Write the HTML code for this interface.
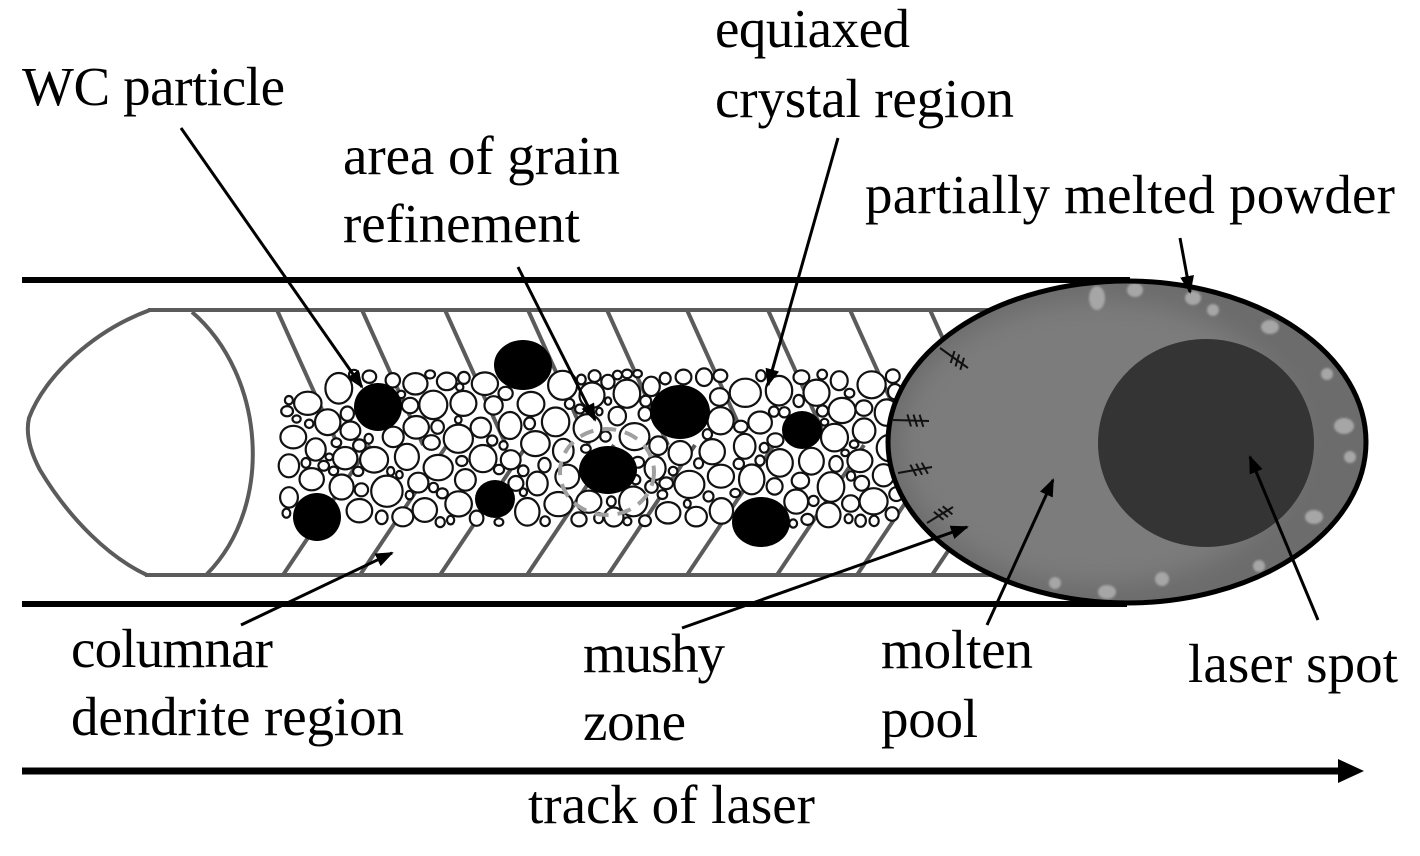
<!DOCTYPE html>
<html><head><meta charset="utf-8"><style>
html,body{margin:0;padding:0;background:#fff;}
svg{display:block;}
text{font-family:"Liberation Serif","Times New Roman",serif;font-size:55px;fill:#000;}
</style></head><body>
<svg id="s" width="1420" height="856" viewBox="0 0 1420 856" xmlns="http://www.w3.org/2000/svg">
<defs>
<filter id="blur" x="-30%" y="-30%" width="160%" height="160%"><feGaussianBlur stdDeviation="12"/></filter>
<filter id="sblur"><feGaussianBlur stdDeviation="1"/></filter>
<clipPath id="ec"><ellipse cx="1127" cy="442" rx="239" ry="161"/></clipPath>
<marker id="ah" markerUnits="userSpaceOnUse" markerWidth="18" markerHeight="14" refX="16" refY="7" orient="auto">
<path d="M0,0 L18,7 L0,14 z" fill="#000"/>
</marker>
</defs>
<rect width="1420" height="856" fill="#fff"/>

<!-- chevron lines -->
<g stroke="#5b5b5b" stroke-width="4" fill="none">
<line x1="277" y1="310" x2="338" y2="445"/>
<line x1="362" y1="310" x2="423" y2="445"/>
<line x1="445" y1="310" x2="506" y2="445"/>
<line x1="528" y1="310" x2="589" y2="445"/>
<line x1="607" y1="310" x2="668" y2="445"/>
<line x1="687" y1="310" x2="748" y2="445"/>
<line x1="768" y1="310" x2="829" y2="445"/>
<line x1="850" y1="310" x2="911" y2="445"/>
<line x1="930" y1="310" x2="991" y2="445"/>
<line x1="283" y1="575" x2="370" y2="445"/>
<line x1="360" y1="575" x2="447" y2="445"/>
<line x1="440" y1="575" x2="527" y2="445"/>
<line x1="527" y1="575" x2="614" y2="445"/>
<line x1="608" y1="575" x2="695" y2="445"/>
<line x1="687" y1="575" x2="774" y2="445"/>
<line x1="777" y1="575" x2="864" y2="445"/>
<line x1="857" y1="575" x2="944" y2="445"/>
<line x1="932" y1="575" x2="1019" y2="445"/>
<!-- rails -->
<line x1="148" y1="310" x2="1010" y2="310"/>
<line x1="145" y1="575" x2="1000" y2="575"/>
<path d="M150,310 C95,330 45,375 29,418 Q24,440 40,470 C70,520 110,558 147,575"/>
<path d="M192,312 C265,375 275,505 207,574"/>
</g>

<g id="bubbles" fill="#fff" stroke="#111" stroke-width="2.2"></g>

<!-- WC particles -->
<g fill="#000">
<ellipse cx="378" cy="407" rx="24" ry="24"/>
<ellipse cx="317" cy="517" rx="24" ry="24"/>
<ellipse cx="523" cy="365" rx="29" ry="25"/>
<ellipse cx="680" cy="412" rx="30" ry="27"/>
<ellipse cx="608" cy="470" rx="29" ry="24"/>
<ellipse cx="495" cy="499" rx="20" ry="19"/>
<ellipse cx="802" cy="430" rx="20" ry="19"/>
<ellipse cx="761" cy="522" rx="29" ry="25"/>
</g>
<ellipse cx="607" cy="472" rx="47" ry="43" fill="none" stroke="#a0a0a0" stroke-width="4" stroke-dasharray="14 9"/>

<!-- thick black boundary lines -->
<line x1="22" y1="280" x2="1130" y2="280" stroke="#000" stroke-width="6"/>
<line x1="22" y1="604" x2="1127" y2="604" stroke="#000" stroke-width="6"/>

<!-- molten pool -->
<ellipse cx="1127" cy="442" rx="239" ry="161" fill="#6c6c6c"/>
<g clip-path="url(#ec)">
<ellipse cx="1100" cy="442" rx="200" ry="142" fill="#7b7b7b" filter="url(#blur)"/>
</g>
<ellipse cx="1206" cy="443" rx="108" ry="104" fill="#343434"/>
<g fill="#a6a6a6" filter="url(#sblur)">
<ellipse cx="1097" cy="298" rx="8" ry="12"/>
<ellipse cx="1135" cy="290" rx="8" ry="7"/>
<ellipse cx="1193" cy="298" rx="8" ry="7"/>
<ellipse cx="1213" cy="310" rx="6" ry="6"/>
<ellipse cx="1270" cy="327" rx="9" ry="7"/>
<ellipse cx="1327" cy="374" rx="6" ry="6"/>
<ellipse cx="1344" cy="426" rx="10" ry="8"/>
<ellipse cx="1350" cy="457" rx="6" ry="6"/>
<ellipse cx="1314" cy="517" rx="9" ry="7"/>
<ellipse cx="1259" cy="566" rx="6" ry="6"/>
<ellipse cx="1162" cy="579" rx="7" ry="7"/>
<ellipse cx="1107" cy="592" rx="9" ry="7"/>
<ellipse cx="1055" cy="583" rx="6" ry="6"/>
</g>
<ellipse cx="1127" cy="442" rx="239" ry="161" fill="none" stroke="#000" stroke-width="5"/>
<g id="dend" stroke="#111" stroke-width="2" fill="none"></g>

<!-- arrows -->
<g stroke="#000" stroke-width="3" fill="none" marker-end="url(#ah)">
<line x1="181" y1="128" x2="362" y2="387"/>
<line x1="518" y1="267" x2="595" y2="420"/>
<line x1="838" y1="138" x2="768" y2="385"/>
<line x1="1180" y1="238" x2="1190" y2="292"/>
<line x1="241" y1="625" x2="392" y2="553"/>
<line x1="682" y1="628" x2="967" y2="527"/>
<line x1="987" y1="625" x2="1053" y2="480"/>
<line x1="1318" y1="620" x2="1250" y2="457"/>
</g>

<!-- track of laser arrow -->
<line x1="22" y1="771" x2="1342" y2="771" stroke="#000" stroke-width="7"/>
<polygon points="1338,759 1364,771 1338,783" fill="#000"/>

<!-- labels -->
<text x="22" y="105" textLength="263" lengthAdjust="spacing">WC particle</text>
<text x="343" y="174" textLength="277" lengthAdjust="spacing">area of grain</text>
<text x="343" y="242" textLength="237" lengthAdjust="spacing">refinement</text>
<text x="715" y="47" textLength="195" lengthAdjust="spacing">equiaxed</text>
<text x="715" y="117" textLength="299" lengthAdjust="spacing">crystal region</text>
<text x="865" y="213" textLength="530" lengthAdjust="spacing">partially melted powder</text>
<text x="71" y="667" textLength="202" lengthAdjust="spacing">columnar</text>
<text x="71" y="735" textLength="333" lengthAdjust="spacing">dendrite region</text>
<text x="583" y="672" textLength="142" lengthAdjust="spacing">mushy</text>
<text x="583" y="740" textLength="103" lengthAdjust="spacing">zone</text>
<text x="881" y="668" textLength="152" lengthAdjust="spacing">molten</text>
<text x="881" y="737" textLength="97" lengthAdjust="spacing">pool</text>
<text x="1188" y="682" textLength="210" lengthAdjust="spacing">laser spot</text>
<text x="528" y="823" textLength="287" lengthAdjust="spacing">track of laser</text>
</svg>
<script>
(function(){
var NS="http://www.w3.org/2000/svg";
var seed=98765;
function rnd(){seed|=0;seed=seed+0x6D2B79F5|0;var t=Math.imul(seed^seed>>>15,1|seed);t=t+Math.imul(t^t>>>7,61|t)^t;return((t^t>>>14)>>>0)/4294967296;}
var blacks=[[378,407,24],[317,517,24],[523,365,27],[680,412,29],[608,470,26],[495,499,20],[802,430,20],[761,522,27]];
var circles=[];
function ok(cx,cy,r){
  if(cx-r<277||cx+r>904)return false;
  var top=cx<345?(396-(cx-277)*0.4):368;
  var bot=cx<300?519:528;
  if(cy-r<top||cy+r>bot)return false;
  for(var i=0;i<blacks.length;i++){var b=blacks[i];var dx=cx-b[0],dy=cy-b[1];var m=r+b[2]-2;if(dx*dx+dy*dy<m*m)return false;}
  for(var j=0;j<circles.length;j++){var c=circles[j];var dx2=cx-c[0],dy2=cy-c[1];var m2=r+c[2]-0.5;if(dx2*dx2+dy2*dy2<m2*m2)return false;}
  return true;
}
var passes=[[12,16,1500],[9.5,12,4000],[7,9.5,7000],[5,7,6000],[4,5,3000]];
for(var p=0;p<passes.length;p++){
  var lo=passes[p][0],hi=passes[p][1],n=passes[p][2];
  for(var k=0;k<n;k++){
    var r=lo+rnd()*(hi-lo);
    var cx=277+rnd()*627, cy=365+rnd()*165;
    if(ok(cx,cy,r)){circles.push([cx,cy,r,(rnd()-0.5)*0.3]);}
  }
}
var g=document.getElementById("bubbles");
for(var q=0;q<circles.length;q++){
  var c=circles[q];var e=document.createElementNS(NS,"ellipse");
  var rx=c[2]*(1+Math.min(0,c[3])), ry=c[2]*(1-Math.max(0,c[3]));
  e.setAttribute("cx",c[0].toFixed(1));e.setAttribute("cy",c[1].toFixed(1));
  e.setAttribute("rx",(rx-0.3).toFixed(1));e.setAttribute("ry",(ry-0.3).toFixed(1));
  g.appendChild(e);
}
// dendrite marks
var marks=[[940,348,968,368],[893,420,929,421],[898,473,932,467],[927,523,953,507]];
var d=document.getElementById("dend");
for(var m=0;m<marks.length;m++){
  var a=marks[m];var dx=a[2]-a[0],dy=a[3]-a[1];var L=Math.sqrt(dx*dx+dy*dy);var ux=dx/L,uy=dy/L,nx=-uy,ny=ux;
  var s="M"+a[0]+","+a[1]+" L"+a[2]+","+a[3];
  var fr=[0.45,0.62,0.79];
  for(var f=0;f<fr.length;f++){
    var px=a[0]+dx*fr[f],py=a[1]+dy*fr[f];
    s+=" M"+(px-nx*6-ux*2).toFixed(1)+","+(py-ny*6-uy*2).toFixed(1)+" L"+(px+nx*6+ux*2).toFixed(1)+","+(py+ny*6+uy*2).toFixed(1);
  }
  var pth=document.createElementNS(NS,"path");pth.setAttribute("d",s);d.appendChild(pth);
}
})();
</script>
</body></html>
